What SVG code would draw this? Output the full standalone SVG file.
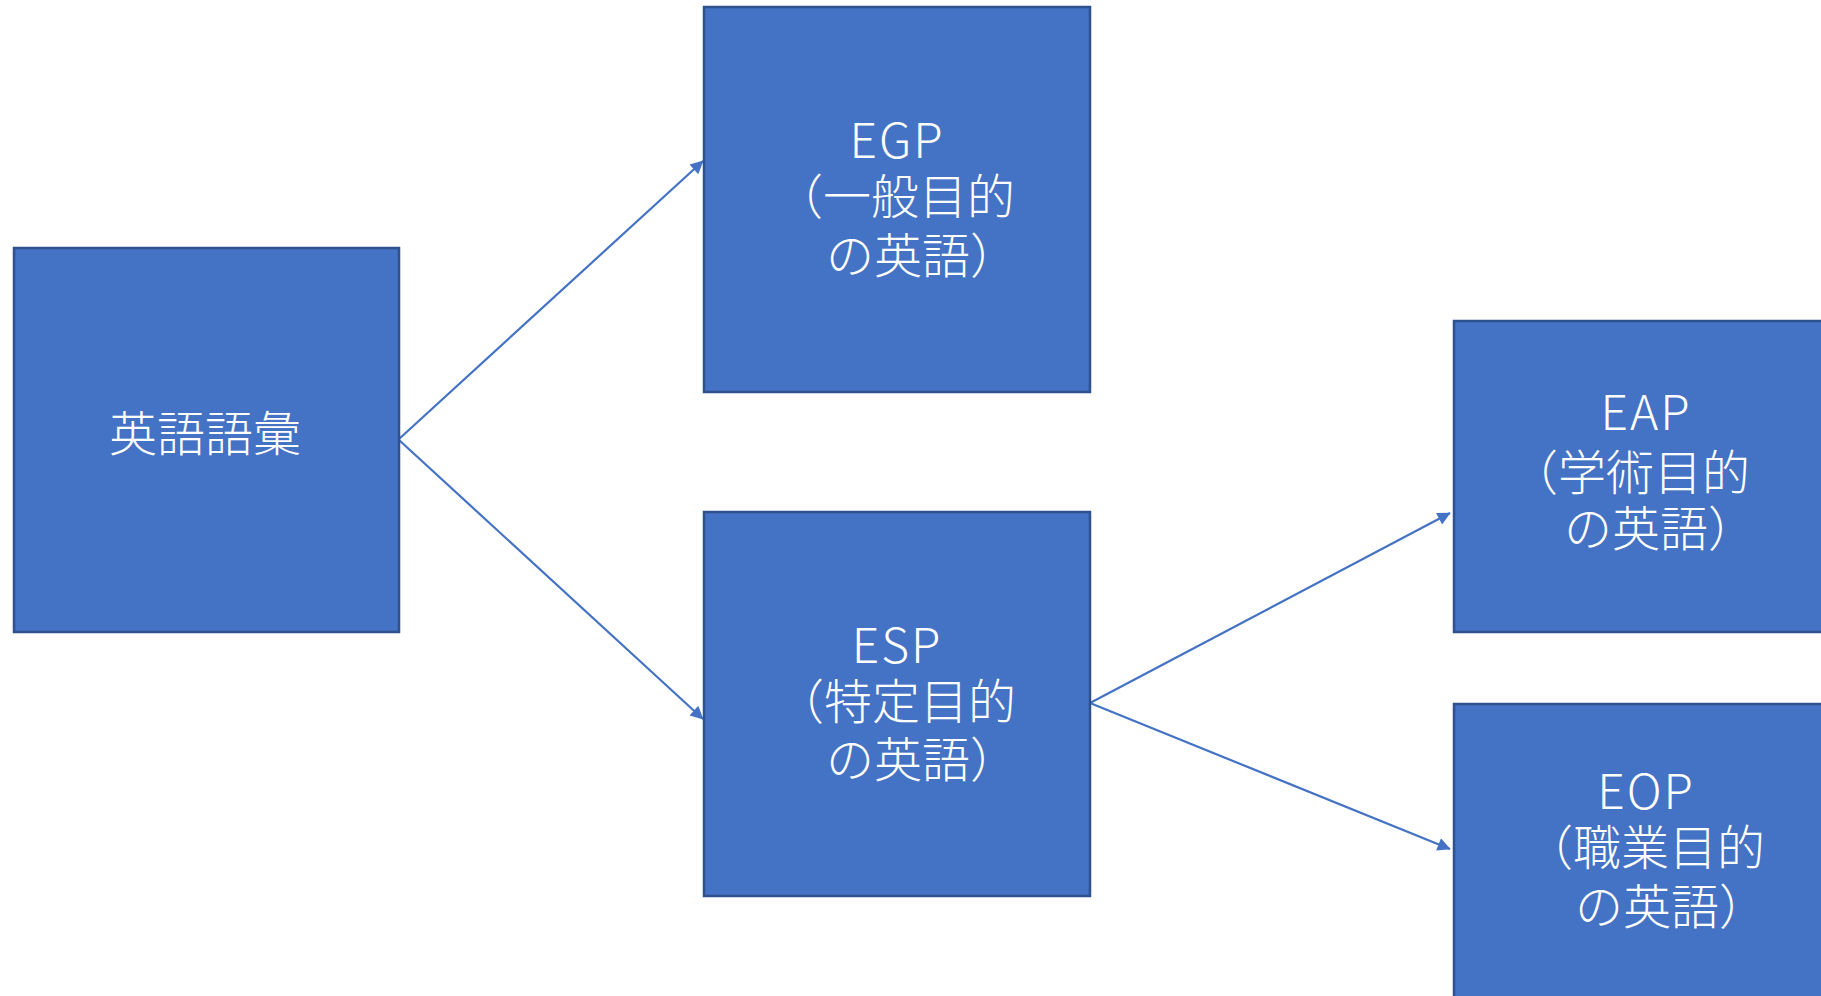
<svg xmlns="http://www.w3.org/2000/svg" width="1821" height="996" viewBox="0 0 1821 996">
  <style>
    .box { fill: #4472C4; stroke: #2F528F; stroke-width: 2.5; }
    .lbl { fill: #FFFFFF; font-family: "Noto Sans CJK JP", "Noto Sans", sans-serif; font-weight: 300; font-size: 48px; text-anchor: middle; }
    .lat { letter-spacing: 2px; }
    .edge { stroke: #4472C4; stroke-width: 2.2; fill: none; marker-end: url(#tip); }
  </style>
  <defs>
    <marker id="tip" viewBox="0 0 10 10" refX="9.5" refY="5" markerUnits="userSpaceOnUse" markerWidth="16" markerHeight="13" orient="auto">
      <path d="M0,0 L10,5 L0,10 Z" fill="#4472C4"/>
    </marker>
  </defs>
  <rect width="1821" height="996" fill="#FFFFFF"/>

  <g id="connectors">
    <line class="edge" x1="399" y1="439" x2="703" y2="161"/>
    <line class="edge" x1="399" y1="440" x2="703" y2="719"/>
    <line class="edge" x1="1090" y1="703" x2="1450" y2="513"/>
    <line class="edge" x1="1090" y1="703" x2="1450" y2="849"/>
  </g>

  <g id="vocab">
    <rect class="box" x="14" y="248" width="385" height="384"/>
    <text class="lbl" x="205" y="451">英語語彙</text>
  </g>

  <g id="egp">
    <rect class="box" x="704" y="7" width="386" height="385"/>
    <text class="lbl"><tspan class="lat" x="897" y="158">EGP</tspan><tspan x="895" y="214">（一般目的</tspan><tspan x="922" y="273">の英語）</tspan></text>
  </g>

  <g id="esp">
    <rect class="box" x="704" y="512" width="386" height="384"/>
    <text class="lbl"><tspan class="lat" x="897" y="663">ESP</tspan><tspan x="896" y="719">（特定目的</tspan><tspan x="922" y="777">の英語）</tspan></text>
  </g>

  <g id="eap">
    <rect class="box" x="1454" y="321" width="380" height="311"/>
    <text class="lbl"><tspan class="lat" x="1646" y="430">EAP</tspan><tspan x="1630" y="490">（学術目的</tspan><tspan x="1660" y="546">の英語）</tspan></text>
  </g>

  <g id="eop">
    <rect class="box" x="1454" y="704" width="380" height="310"/>
    <text class="lbl"><tspan class="lat" x="1646" y="809">EOP</tspan><tspan x="1645" y="865">（職業目的</tspan><tspan x="1671" y="924">の英語）</tspan></text>
  </g>
</svg>
